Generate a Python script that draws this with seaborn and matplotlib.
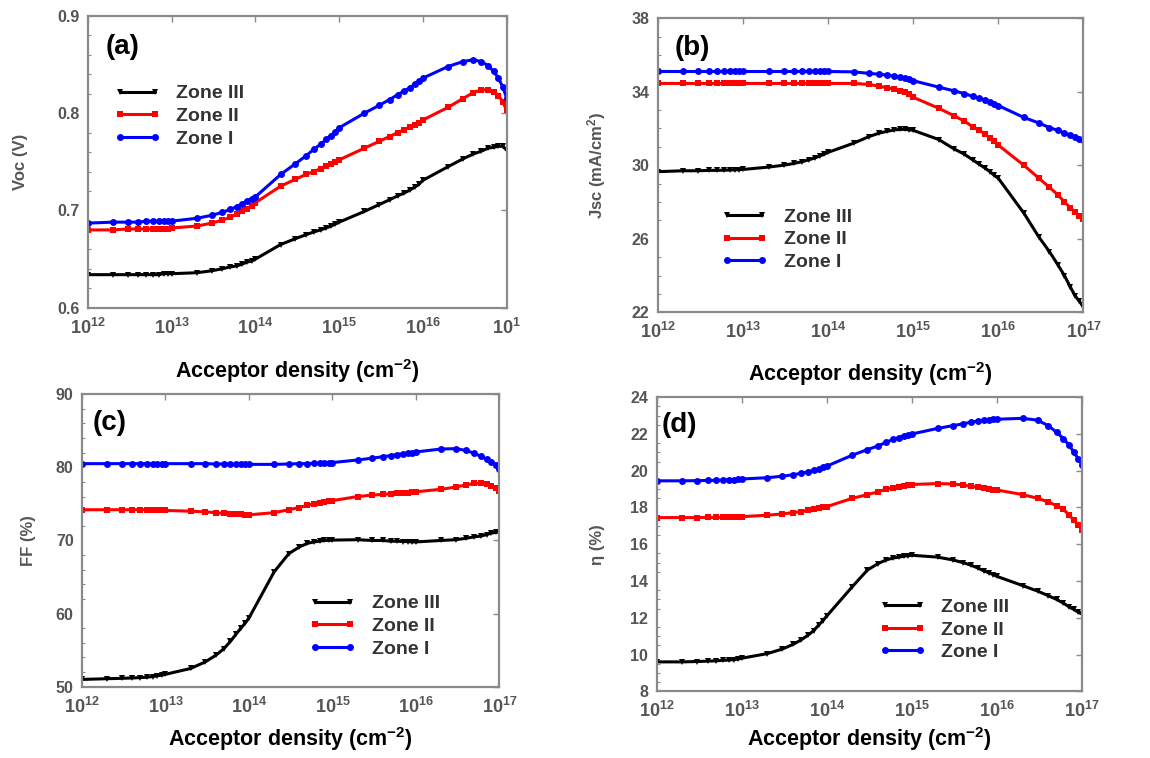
import numpy as np
import pandas as pd
import matplotlib
matplotlib.use("Agg")
import matplotlib.pyplot as plt
import seaborn as sns
from matplotlib.ticker import FixedLocator, FixedFormatter, MultipleLocator, NullLocator

# ---------------- data ----------------
density = [1e12, 2e12, 3e12, 4e12, 5e12, 6e12, 7e12, 8e12, 9e12,
           1e13, 2e13, 3e13, 4e13, 5e13, 6e13, 7e13, 8e13, 9e13,
           1e14, 2e14, 3e14, 4e14, 5e14, 6e14, 7e14, 8e14, 9e14,
           1e15, 2e15, 3e15, 4e15, 5e15, 6e15, 7e15, 8e15, 9e15,
           1e16, 2e16, 3e16, 4e16, 5e16, 6e16, 7e16, 8e16, 9e16,
           1e17]

zones = ["Zone III", "Zone II", "Zone I"]

# (a) Voc (V)
voc_III = [0.634, 0.634, 0.634, 0.634, 0.634, 0.634, 0.634, 0.635, 0.635,
           0.635, 0.636, 0.638, 0.640, 0.642, 0.643, 0.645, 0.647, 0.648,
           0.650, 0.665, 0.671, 0.675, 0.678, 0.680, 0.682, 0.684, 0.686,
           0.688, 0.699, 0.706, 0.711, 0.715, 0.718, 0.721, 0.724, 0.727,
           0.731, 0.745, 0.753, 0.758, 0.761, 0.764, 0.765, 0.766, 0.766,
           0.762]
voc_II = [0.680, 0.680, 0.681, 0.681, 0.681, 0.681, 0.681, 0.681, 0.681,
          0.682, 0.684, 0.687, 0.690, 0.693, 0.696, 0.699, 0.702, 0.705,
          0.708, 0.725, 0.732, 0.737, 0.740, 0.743, 0.746, 0.748, 0.750,
          0.752, 0.764, 0.771, 0.776, 0.780, 0.783, 0.786, 0.788, 0.790,
          0.793, 0.806, 0.815, 0.821, 0.824, 0.824, 0.822, 0.818, 0.812,
          0.803]
voc_I = [0.687, 0.688, 0.688, 0.688, 0.689, 0.689, 0.689, 0.689, 0.689,
         0.689, 0.692, 0.695, 0.698, 0.701, 0.704, 0.707, 0.710, 0.712,
         0.714, 0.737, 0.748, 0.756, 0.763, 0.768, 0.773, 0.777, 0.781,
         0.785, 0.800, 0.808, 0.814, 0.819, 0.823, 0.826, 0.830, 0.833,
         0.836, 0.848, 0.853, 0.855, 0.853, 0.849, 0.843, 0.836, 0.827,
         0.816]

# (b) Jsc (mA/cm2)
jsc_III = [29.65, 29.70, 29.70, 29.72, 29.72, 29.73, 29.74, 29.75, 29.76,
           29.77, 29.90, 30.00, 30.10, 30.20, 30.30, 30.40, 30.50, 30.60,
           30.70, 31.20, 31.55, 31.75, 31.85, 31.92, 31.95, 31.95, 31.93,
           31.90, 31.40, 30.90, 30.60, 30.30, 30.05, 29.85, 29.65, 29.45,
           29.30, 27.40, 26.10, 25.30, 24.60, 24.00, 23.40, 22.90, 22.60,
           22.30]
jsc_II = [34.45, 34.45, 34.45, 34.45, 34.45, 34.45, 34.45, 34.45, 34.45,
          34.45, 34.45, 34.45, 34.45, 34.45, 34.45, 34.45, 34.45, 34.45,
          34.45, 34.45, 34.40, 34.30, 34.20, 34.15, 34.05, 34.00, 33.90,
          33.70, 33.10, 32.70, 32.40, 32.10, 31.90, 31.70, 31.50, 31.30,
          31.10, 30.00, 29.30, 28.80, 28.40, 28.00, 27.70, 27.45, 27.25,
          27.10]
jsc_I = [35.10, 35.10, 35.10, 35.10, 35.10, 35.10, 35.10, 35.10, 35.10,
         35.10, 35.10, 35.10, 35.10, 35.10, 35.10, 35.10, 35.10, 35.10,
         35.10, 35.08, 35.00, 34.95, 34.90, 34.85, 34.80, 34.75, 34.70,
         34.60, 34.25, 34.05, 33.90, 33.75, 33.65, 33.55, 33.45, 33.35,
         33.25, 32.60, 32.30, 32.05, 31.90, 31.75, 31.65, 31.55, 31.45,
         31.35]

# (c) FF (%)
ff_III = [51.0, 51.1, 51.15, 51.2, 51.25, 51.3, 51.4, 51.5, 51.6,
          51.7, 52.5, 53.4, 54.3, 55.2, 56.2, 57.2, 58.0, 58.7,
          59.4, 65.7, 68.2, 69.1, 69.6, 69.8, 69.9, 70.0, 70.0,
          70.05, 70.1, 70.0, 70.0, 69.9, 69.9, 69.85, 69.85, 69.8,
          69.8, 70.0, 70.1, 70.3, 70.5, 70.6, 70.8, 71.0, 71.1,
          71.2]
ff_II = [74.2, 74.2, 74.2, 74.2, 74.2, 74.2, 74.2, 74.15, 74.15,
         74.1, 74.0, 73.9, 73.8, 73.7, 73.65, 73.6, 73.55, 73.5,
         73.5, 73.8, 74.2, 74.5, 74.8, 75.0, 75.15, 75.3, 75.4,
         75.45, 76.0, 76.2, 76.3, 76.4, 76.45, 76.5, 76.55, 76.6,
         76.65, 77.0, 77.3, 77.6, 77.8, 77.8, 77.7, 77.5, 77.2,
         76.7]
ff_I = [80.5, 80.5, 80.5, 80.5, 80.5, 80.5, 80.5, 80.5, 80.5,
        80.5, 80.5, 80.5, 80.45, 80.45, 80.45, 80.4, 80.4, 80.4,
        80.4, 80.4, 80.45, 80.5, 80.5, 80.55, 80.55, 80.6, 80.6,
        80.65, 81.0, 81.25, 81.45, 81.6, 81.75, 81.85, 81.95, 82.0,
        82.1, 82.5, 82.55, 82.3, 81.9, 81.5, 81.1, 80.7, 80.3,
        79.8]

# (d) efficiency (%)
eta_III = [9.6, 9.6, 9.62, 9.64, 9.66, 9.68, 9.7, 9.72, 9.75,
           9.8, 10.05, 10.3, 10.55, 10.8, 11.05, 11.3, 11.6, 11.85,
           12.1, 13.7, 14.6, 14.95, 15.15, 15.25, 15.3, 15.35, 15.38,
           15.4, 15.3, 15.15, 15.0, 14.85, 14.7, 14.55, 14.45, 14.35,
           14.25, 13.75, 13.45, 13.2, 13.0, 12.8, 12.6, 12.45, 12.3,
           12.2]
eta_II = [17.45, 17.45, 17.45, 17.46, 17.46, 17.47, 17.47, 17.48, 17.48,
          17.5, 17.58, 17.65, 17.72, 17.78, 17.84, 17.9, 17.95, 18.0,
          18.05, 18.5, 18.7, 18.85, 19.0, 19.07, 19.13, 19.18, 19.22,
          19.25, 19.3, 19.28, 19.22, 19.15, 19.1, 19.05, 19.0, 18.97,
          18.95, 18.7, 18.5, 18.3, 18.1, 17.9, 17.6, 17.3, 17.05,
          16.8]
eta_I = [19.45, 19.45, 19.46, 19.47, 19.48, 19.49, 19.5, 19.52, 19.53,
         19.55, 19.62, 19.7, 19.78, 19.86, 19.94, 20.02, 20.1, 20.18,
         20.25, 20.85, 21.15, 21.35, 21.55, 21.7, 21.8, 21.9, 21.95,
         22.0, 22.3, 22.45, 22.55, 22.65, 22.7, 22.74, 22.77, 22.79,
         22.8, 22.85, 22.75, 22.45, 22.1, 21.75, 21.4, 21.0, 20.65,
         20.3]

panels = [
    dict(tag="(a)", III=voc_III, II=voc_II, I=voc_I, ylabel="Voc (V)",
         ylim=(0.6, 0.9), yticks=[0.6, 0.7, 0.8, 0.9], yticklabels=["0.6", "0.7", "0.8", "0.9"],
         xticklabels=["12", "13", "14", "15", "16", "1"]),
    dict(tag="(b)", III=jsc_III, II=jsc_II, I=jsc_I, ylabel="Jsc (mA/cm$^{\\mathbf{2}}$)",
         ylim=(22, 38), yticks=[22, 26, 30, 34, 38], yticklabels=["22", "26", "30", "34", "38"],
         xticklabels=["12", "13", "14", "15", "16", "17"]),
    dict(tag="(c)", III=ff_III, II=ff_II, I=ff_I, ylabel="FF (%)",
         ylim=(50, 90), yticks=[50, 60, 70, 80, 90], yticklabels=["50", "60", "70", "80", "90"],
         xticklabels=["12", "13", "14", "15", "16", "17"]),
    dict(tag="(d)", III=eta_III, II=eta_II, I=eta_I, ylabel="η (%)",
         ylim=(8, 24), yticks=[8, 10, 12, 14, 16, 18, 20, 22, 24],
         yticklabels=["8", "10", "12", "14", "16", "18", "20", "22", "24"],
         xticklabels=["12", "13", "14", "15", "16", "17"]),
]

# ---------------- style ----------------
sns.set_style("white")
plt.rcParams["font.family"] = ["Liberation Sans", "DejaVu Sans"]
plt.rcParams["mathtext.fontset"] = "custom"
plt.rcParams["mathtext.rm"] = "Liberation Sans"
plt.rcParams["mathtext.bf"] = "Liberation Sans:bold"
plt.rcParams["mathtext.it"] = "Liberation Sans:italic"

palette = {"Zone III": "black", "Zone II": "#ff0000", "Zone I": "#0000ff"}
markers = {"Zone III": "v", "Zone II": "s", "Zone I": "o"}
TICK_GRAY = "#555555"
SPINE_GRAY = "#8a8a8a"

fig = plt.figure(figsize=(11.5, 7.58), dpi=100)

# axes rectangles (figure fractions)
rects = [
    [0.0765, 0.594, 0.364, 0.385],
    [0.572, 0.588, 0.370, 0.388],
    [0.0713, 0.094, 0.363, 0.386],
    [0.571, 0.088, 0.370, 0.388],
]
legend_anchor = [(0.062, 0.764), (0.15, 0.354), (0.545, 0.314), (0.522, 0.316)]
tag_pos = [(0.042, 0.893), (0.04, 0.90), (0.025, 0.90), (0.012, 0.905)]
ylabel_pad = [21, 17, 14, 18]
xlabel_pad = [14, 13, 6, 3]
minor_step = [0.02, 1, 2, 0.5]

for p, rect, lanc, tpos, ypad, xpad, mstep in zip(panels, rects, legend_anchor, tag_pos,
                                                  ylabel_pad, xlabel_pad, minor_step):
    ax = fig.add_axes(rect)
    frames = []
    for z, key in zip(zones, ["III", "II", "I"]):
        frames.append(pd.DataFrame({"density": density, "value": p[key], "zone": z}))
    df = pd.concat(frames, ignore_index=True)
    sns.lineplot(data=df, x="density", y="value", hue="zone", style="zone",
                 hue_order=zones, style_order=zones, palette=palette,
                 markers=markers, dashes=False, estimator=None,
                 markersize=5, markeredgewidth=0, linewidth=2.2, ax=ax)
    ax.set_xscale("log")
    ax.set_xlim(1e12, 1e17)
    ax.set_ylim(*p["ylim"])

    ax.xaxis.set_major_locator(FixedLocator([1e12, 1e13, 1e14, 1e15, 1e16, 1e17]))
    ax.xaxis.set_major_formatter(FixedFormatter(
        [r"$\mathbf{10^{%s}}$" % e for e in p["xticklabels"]]))
    ax.xaxis.set_minor_locator(NullLocator())
    ax.yaxis.set_major_locator(FixedLocator(p["yticks"]))
    ax.yaxis.set_major_formatter(FixedFormatter(p["yticklabels"]))
    ax.yaxis.set_minor_locator(MultipleLocator(mstep))

    ax.tick_params(axis="both", which="major", direction="in", length=4, width=1,
                   color=SPINE_GRAY, labelcolor=TICK_GRAY, labelsize=11.5,
                   top=True, right=True, pad=6)
    ax.tick_params(axis="x", which="major", labelsize=13, pad=7)
    ax.tick_params(axis="y", which="minor", direction="in", length=2.5, width=0.8,
                   color=SPINE_GRAY, left=True, right=False)
    for lab in ax.get_yticklabels():
        lab.set_fontweight("bold")
    for sp in ax.spines.values():
        sp.set_color(SPINE_GRAY)
        sp.set_linewidth(1.6)

    ax.set_xlabel("Acceptor density (cm$^{\\mathbf{-2}}$)", fontsize=15.5, fontweight="bold",
                  color="black", labelpad=xpad)
    ax.set_ylabel(p["ylabel"], fontsize=12, fontweight="bold", color=TICK_GRAY, labelpad=ypad)

    ax.text(tpos[0], tpos[1], p["tag"], transform=ax.transAxes, fontsize=20,
            fontweight="bold", va="center", ha="left", color="black")

    handles, labels = ax.get_legend_handles_labels()
    leg = ax.legend(handles, labels, loc="upper left", bbox_to_anchor=lanc,
                    frameon=False, numpoints=2, handlelength=2.4, handletextpad=0.8,
                    labelspacing=0.26, borderpad=0, borderaxespad=0,
                    prop={"weight": "bold", "size": 14})
    for t in leg.get_texts():
        t.set_color("#333333")
    for h in leg.legend_handles:
        h.set_linewidth(2.2)

fig.savefig("out.png", dpi=100)
